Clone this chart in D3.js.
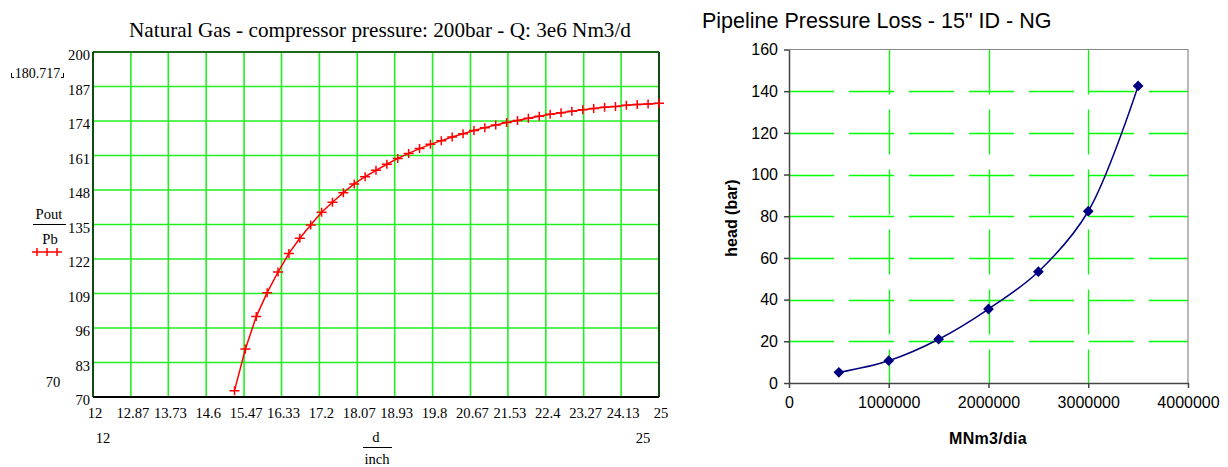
<!DOCTYPE html>
<html><head><meta charset="utf-8">
<script src="https://cdn.jsdelivr.net/npm/d3@7"></script>
<style>body{margin:0;background:#fff}svg{display:block}</style>
</head><body>
<svg id="c" width="1228" height="467"></svg>
<script>
// ---- Left chart data ----
const diameters = [15.25,15.5,15.75,16,16.25,16.5,16.75,17,17.25,17.5,17.75,18,18.25,18.5,18.75,19,19.25,19.5,19.75,20,20.25,20.5,20.75,21,21.25,21.5,21.75,22,22.25,22.5,22.75,23,23.25,23.5,23.75,24,24.25,24.5,24.75,25];
const poutValues = [72.4,88.1,100.3,109.3,117.1,124.1,129.8,134.8,139.6,143.4,147.0,150.3,153.0,155.4,157.7,159.9,161.8,163.6,165.2,166.6,168.0,169.2,170.4,171.5,172.5,173.4,174.2,175.0,175.8,176.5,177.1,177.7,178.2,178.7,179.2,179.5,179.9,180.2,180.45,180.717];
const leftXTicks = [12,12.87,13.73,14.6,15.47,16.33,17.2,18.07,18.93,19.8,20.67,21.53,22.4,23.27,24.13,25];
const leftYTicks = [70,83,96,109,122,135,148,161,174,187,200];
// ---- Right chart data ----
const flowRates = [500000,1000000,1500000,2000000,2500000,3000000,3500000];
const headValues = [5.1,10.7,21.0,35.5,53.4,82.4,142.5];
const rightXTicks = [0,1000000,2000000,3000000,4000000];
const rightYTicks = [0,20,40,60,80,100,120,140,160];

const svg = d3.select("#c");

// ================= LEFT CHART =================
const serif = "'Liberation Serif','Times New Roman',serif";
const L = {x0:93, x1:659, y0:397, y1:52};
const lx = d3.scaleLinear().domain([12,25]).range([L.x0,L.x1]);
const ly = d3.scaleLinear().domain([70,200]).range([L.y0,L.y1]);
const gl = svg.append("g");

gl.append("text").attr("x",380).attr("y",37).attr("text-anchor","middle")
  .attr("font-family",serif).attr("font-size",21.2).attr("fill","#000")
  .text("Natural Gas - compressor pressure: 200bar - Q: 3e6 Nm3/d");

// grid
gl.append("g").selectAll("line").data(leftXTicks).join("line")
  .attr("x1",d=>lx(d)).attr("x2",d=>lx(d)).attr("y1",L.y1).attr("y2",L.y0)
  .attr("stroke","#22ee22").attr("stroke-width",1.6);
gl.append("g").selectAll("line").data(leftYTicks).join("line")
  .attr("x1",L.x0).attr("x2",L.x1).attr("y1",d=>ly(d)).attr("y2",d=>ly(d))
  .attr("stroke","#22ee22").attr("stroke-width",1.6);
// frame
gl.append("line").attr("x1",L.x0).attr("x2",L.x0).attr("y1",L.y1).attr("y2",L.y0).attr("stroke","#0a3a0a").attr("stroke-width",1.8);
gl.append("line").attr("x1",L.x1).attr("x2",L.x1).attr("y1",L.y1).attr("y2",L.y0).attr("stroke","#0a3a0a").attr("stroke-width",1.8);
gl.append("line").attr("x1",L.x0).attr("x2",L.x1).attr("y1",L.y1).attr("y2",L.y1).attr("stroke","#0a3a0a").attr("stroke-width",1.5);
gl.append("line").attr("x1",L.x0).attr("x2",L.x1).attr("y1",L.y0).attr("y2",L.y0).attr("stroke","#000").attr("stroke-width",1.8);

// tick labels
gl.append("g").selectAll("text").data(leftYTicks).join("text")
  .attr("x",90).attr("y",d=>ly(d)+3).attr("dy","0.35em").attr("text-anchor","end")
  .attr("font-family",serif).attr("font-size",14.6).text(d=>d);
gl.append("g").selectAll("text").data(leftXTicks).join("text")
  .attr("x",d=>lx(d)+2).attr("y",413).attr("dy","0.35em").attr("text-anchor","middle")
  .attr("font-family",serif).attr("font-size",14.6).text(d=>d);

// data
const lineL = d3.line().x((d,i)=>lx(diameters[i])).y(d=>ly(d));
gl.append("path").datum(poutValues).attr("d",lineL).attr("fill","none").attr("stroke","#ff0000").attr("stroke-width",1.5);
gl.append("g").selectAll("path").data(poutValues).join("path")
  .attr("d",(d,i)=>{const x=lx(diameters[i]),y=ly(d);return `M${x-5},${y}H${x+5}M${x},${y-4.5}V${y+4.5}`;})
  .attr("stroke","#ff0000").attr("stroke-width",1.5).attr("fill","none");

// annotations
gl.append("text").attr("x",37.5).attr("y",73).attr("dy","0.35em").attr("text-anchor","middle")
  .attr("font-family",serif).attr("font-size",14).text("180.717");
gl.append("path").attr("d","M11.5,73V77.5H14M63.5,73V77.5H61").attr("stroke","#000").attr("stroke-width",1).attr("fill","none");
gl.append("text").attr("x",53).attr("y",382).attr("dy","0.35em").attr("text-anchor","middle")
  .attr("font-family",serif).attr("font-size",14.6).text("70");
gl.append("text").attr("x",103).attr("y",438).attr("dy","0.35em").attr("text-anchor","middle")
  .attr("font-family",serif).attr("font-size",14.6).text("12");
gl.append("text").attr("x",643).attr("y",438).attr("dy","0.35em").attr("text-anchor","middle")
  .attr("font-family",serif).attr("font-size",14.6).text("25");
// legend
gl.append("text").attr("x",49).attr("y",214).attr("dy","0.35em").attr("text-anchor","middle")
  .attr("font-family",serif).attr("font-size",14.6).text("Pout");
gl.append("line").attr("x1",33).attr("x2",66).attr("y1",224.5).attr("y2",224.5).attr("stroke","#000").attr("stroke-width",1);
gl.append("text").attr("x",50).attr("y",239).attr("dy","0.35em").attr("text-anchor","middle")
  .attr("font-family",serif).attr("font-size",14.6).text("Pb");
gl.append("path").attr("d","M32,252H62M37,248V256M47,248V256M57,248V256").attr("stroke","#ff0000").attr("stroke-width",1.5).attr("fill","none");
// x label
gl.append("text").attr("x",376).attr("y",437).attr("dy","0.35em").attr("text-anchor","middle")
  .attr("font-family",serif).attr("font-size",14.6).text("d");
gl.append("line").attr("x1",363).attr("x2",392).attr("y1",447.5).attr("y2",447.5).attr("stroke","#000").attr("stroke-width",1);
gl.append("text").attr("x",377).attr("y",459).attr("dy","0.35em").attr("text-anchor","middle")
  .attr("font-family",serif).attr("font-size",14.6).text("inch");

// ================= RIGHT CHART =================
const sans = "'Liberation Sans',Arial,sans-serif";
const R = {x0:789, x1:1188, y0:383, y1:49.5};
const rx = d3.scaleLinear().domain([0,4000000]).range([R.x0,R.x1]);
const ry = d3.scaleLinear().domain([0,160]).range([R.y0,R.y1]);
const gr = svg.append("g");

gr.append("text").attr("x",702).attr("y",28).attr("font-family",sans).attr("font-size",21.5)
  .text("Pipeline Pressure Loss - 15\" ID - NG");

// grid
gr.append("g").selectAll("line").data(rightYTicks.slice(1,-1)).join("line")
  .attr("x1",R.x0).attr("x2",R.x1).attr("y1",d=>Math.round(ry(d))+0.5).attr("y2",d=>Math.round(ry(d))+0.5)
  .attr("stroke","#00ff00").attr("stroke-width",1.3).attr("stroke-dasharray","45,15");
gr.append("g").selectAll("line").data(rightXTicks.slice(1,-1)).join("line")
  .attr("x1",d=>Math.round(rx(d))+0.5).attr("x2",d=>Math.round(rx(d))+0.5).attr("y1",R.y1).attr("y2",R.y0)
  .attr("stroke","#00ff00").attr("stroke-width",1.3).attr("stroke-dasharray","45,15");
// frame top/right
gr.append("path").attr("d",`M${R.x0},${R.y1}H${R.x1}V${R.y0}`).attr("fill","none").attr("stroke","#8a8a8a").attr("stroke-width",1.2);

// axes
const yAxis = d3.axisLeft(ry).tickValues(rightYTicks).tickSize(5).tickSizeOuter(0).tickPadding(6);
const xAxis = d3.axisBottom(rx).tickValues(rightXTicks).tickSize(5).tickSizeOuter(0).tickPadding(9).tickFormat(d3.format("d"));
const ya = gr.append("g").attr("transform",`translate(${R.x0},0)`).call(yAxis);
const xa = gr.append("g").attr("transform",`translate(0,${R.y0})`).call(xAxis);
[ya,xa].forEach(a=>{
  a.selectAll(".domain,line").attr("stroke","#444").attr("stroke-width",1.5);
  a.selectAll("text").attr("font-family",sans).attr("font-size",16).attr("fill","#000");
});

// line + markers
const lineR = d3.line().x((d,i)=>rx(flowRates[i])).y(d=>ry(d)).curve(d3.curveCatmullRom.alpha(0.5));
gr.append("path").datum(headValues).attr("d",lineR).attr("fill","none").attr("stroke","#000080").attr("stroke-width",1.5);
gr.append("g").selectAll("path").data(headValues).join("path")
  .attr("d",d3.symbol().type(d3.symbolSquare).size(58))
  .attr("transform",(d,i)=>`translate(${rx(flowRates[i])},${ry(d)}) rotate(45)`)
  .attr("fill","#000080");

// axis titles
gr.append("text").attr("transform","translate(737,218) rotate(-90)").attr("text-anchor","middle")
  .attr("font-family",sans).attr("font-size",16).attr("font-weight","bold").text("head (bar)");
gr.append("text").attr("x",988).attr("y",444).attr("text-anchor","middle")
  .attr("font-family",sans).attr("font-size",16).attr("font-weight","bold").attr("letter-spacing",0.3).text("MNm3/dia");
</script>
</body></html>
